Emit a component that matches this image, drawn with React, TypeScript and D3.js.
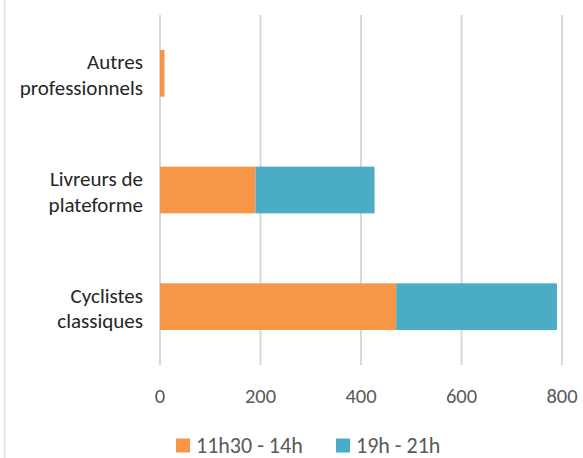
import React from "react";
import * as d3 from "d3";

const categories = ["Autres professionnels", "Livreurs de plateforme", "Cyclistes classiques"];
const categoryLines = [["Autres", "professionnels"], ["Livreurs de", "plateforme"], ["Cyclistes", "classiques"]];
const seriesNames = ["11h30 - 14h", "19h - 21h"];
const midi = [9, 190, 470];
const soir = [0, 237, 320];
const xTicks = [0, 200, 400, 600, 800];
const colors = ["#F79646", "#4BACC6"];

export default function App() {
  const W = 583, H = 458;
  const x = d3.scaleLinear().domain([0, 800]).range([160, 562]);
  const y = d3.scaleBand<string>().domain(categories).range([15, 365]).paddingInner(0.6).paddingOuter(0.3);
  const rows = categories.map((c, i) => ({ c, midi: midi[i], soir: soir[i] }));
  const stack = d3.stack<any>().keys(["midi", "soir"])(rows);
  const font = "Carlito, Calibri, Lato, 'Open Sans', sans-serif";
  return (
    <svg width={W} height={H} style={{ position: "absolute", left: 0, top: 0, background: "#fff" }} fontFamily={font}>
      <line x1={4.5} x2={4.5} y1={0} y2={H} stroke="#e0e0e0" strokeWidth={1.5} />
      {xTicks.map((t) => (
        <line key={"g" + t} x1={x(t)} x2={x(t)} y1={15} y2={365} stroke="#d9d9d9" strokeWidth={2} />
      ))}
      {stack.map((s, si) =>
        s.map((d, i) => (
          <rect key={si + "-" + i} x={x(d[0])} y={y(categories[i])!} width={Math.max(0, x(d[1]) - x(d[0]))} height={y.bandwidth()} fill={colors[si]} />
        ))
      )}
      {categories.map((c, i) => (
        <text key={c} textAnchor="end" fontSize={21} fill="#262626">
          {categoryLines[i].map((l, li) => (
            <tspan key={li} x={143} y={y(c)! + y.bandwidth() / 2 + (li === 0 ? -4 : 21.5)}>{l}</tspan>
          ))}
        </text>
      ))}
      {xTicks.map((t) => (
        <text key={"t" + t} x={x(t)} y={403} textAnchor="middle" fontSize={20.5} fill="#595959">{t}</text>
      ))}
      {seriesNames.map((n, i) => {
        const lx = i === 0 ? 176 : 336;
        return (
          <g key={n}>
            <rect x={lx} y={438.5} width={14} height={14} fill={colors[i]} />
            <text x={lx + 20} y={452.5} fontSize={22} fill="#595959">{n}</text>
          </g>
        );
      })}
    </svg>
  );
}
